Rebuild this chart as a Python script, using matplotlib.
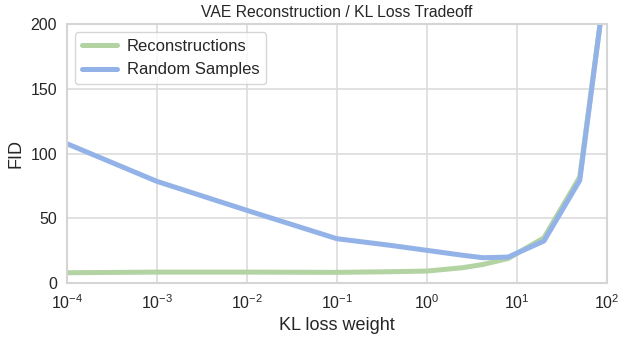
import matplotlib
matplotlib.use("Agg")
import matplotlib.pyplot as plt
import seaborn as sns

kl_weight = [1e-4, 1e-3, 1e-2, 1e-1, 0.4, 1, 2.5, 4.2, 8, 20, 50, 100]
fid_recon = [8, 8.5, 8.5, 8.3, 8.8, 9.3, 11.9, 14.4, 19, 35, 82, 240]
fid_random = [107.7, 78.6, 56.2, 34.3, 29.1, 25.3, 21.5, 19.6, 20.1, 32.5, 79.4, 240]

sns.set_style("whitegrid")
plt.rcParams['font.family'] = ['Liberation Sans', 'DejaVu Sans']
plt.rcParams['mathtext.fontset'] = 'custom'
plt.rcParams['mathtext.rm'] = 'Liberation Sans'
plt.rcParams['mathtext.it'] = 'Liberation Sans:italic'

fig, ax = plt.subplots(figsize=(6.18, 3.44), dpi=100)
fig.subplots_adjust(left=0.108, right=0.982, top=0.930, bottom=0.177)

ax.plot(kl_weight, fid_recon, color='#b3d3a3', lw=3.6, label='Reconstructions')
ax.plot(kl_weight, fid_random, color='#93b3e8', lw=3.6, label='Random Samples')

ax.set_xscale('log')
ax.set_xlim(1e-4, 1e2)
ax.set_ylim(0, 200)
ax.set_yticks([0, 50, 100, 150, 200])
ax.minorticks_off()
ax.tick_params(labelsize=11.5, colors='#262626')
ax.set_xlabel('KL loss weight', fontsize=13, color='#262626')
ax.set_ylabel('FID', fontsize=13, color='#262626')
ax.set_title('VAE Reconstruction / KL Loss Tradeoff', fontsize=11.3, color='#262626', pad=5)
for s in ax.spines.values():
    s.set_color('#d5d5d5')
    s.set_linewidth(1.5)
ax.grid(color='#dcdcdc', lw=1.2)
ax.legend(loc='upper left', fontsize=12, frameon=True, handlelength=2.1, handletextpad=0.6)

fig.savefig('out.png', dpi=100)
